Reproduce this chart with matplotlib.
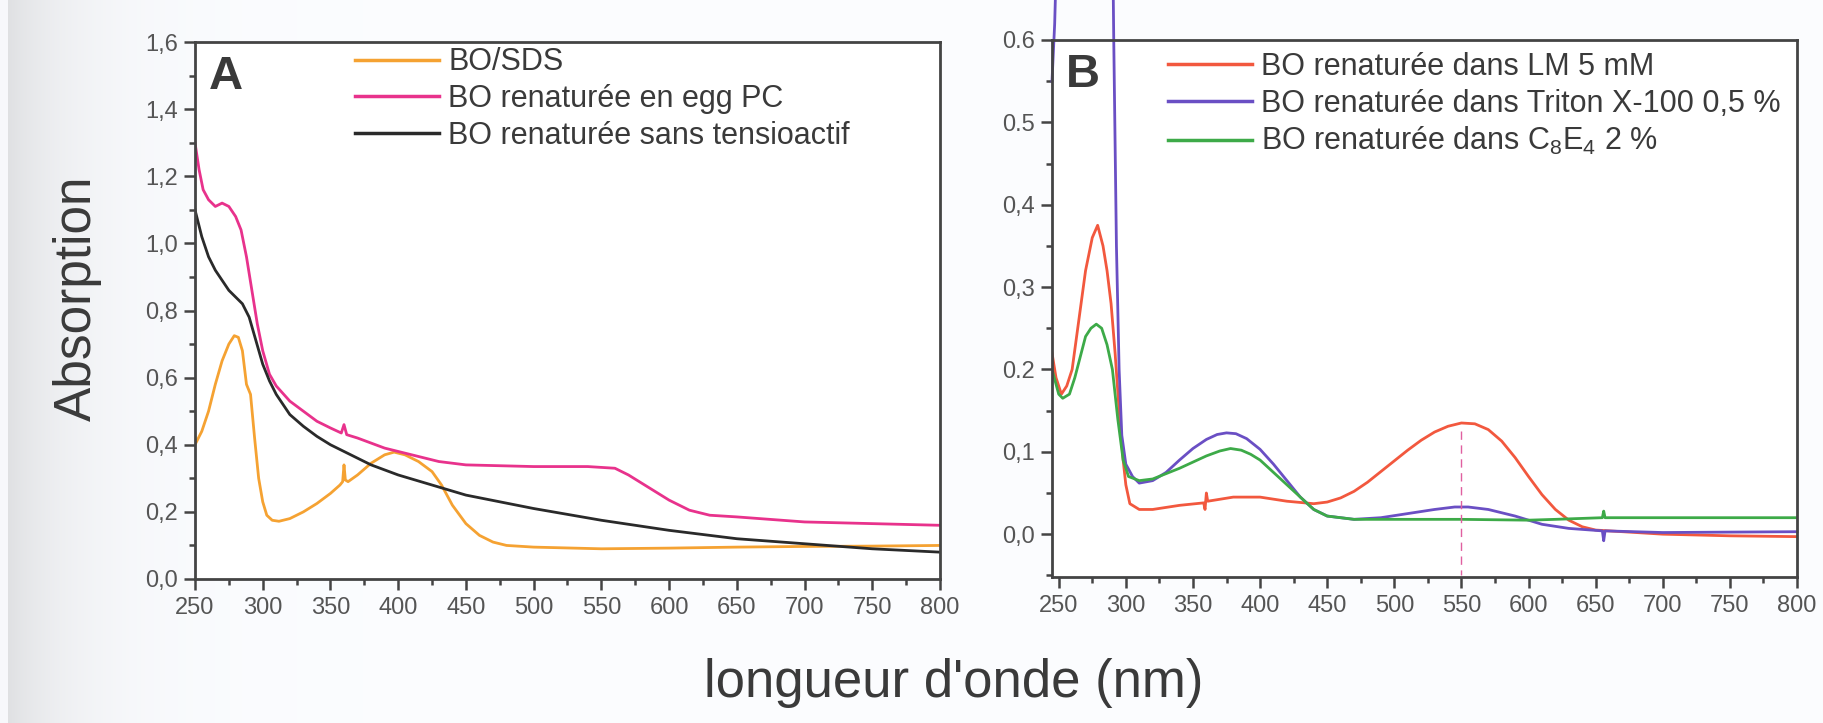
import numpy as np
import matplotlib.pyplot as plt
from matplotlib.ticker import MultipleLocator, FixedLocator, FixedFormatter, FuncFormatter

plt.rcParams['font.family'] = ['Liberation Sans', 'DejaVu Sans']
plt.rcParams['mathtext.fontset'] = 'custom'
plt.rcParams['mathtext.rm'] = 'Liberation Sans'
plt.rcParams['mathtext.it'] = 'Liberation Sans:italic'

# ---------------- Panel A : absorption spectra ----------------
wl_sds = [250, 255, 260, 265, 270, 275, 279, 282, 285, 288, 291, 294, 297, 300, 303, 307,
          312, 320, 330, 340, 350, 357, 359, 360, 361, 363, 370, 380, 390, 397, 405, 415,
          425, 432, 440, 450, 460, 470, 480, 500, 550, 600, 650, 700, 750, 800]
abs_sds = [0.40, 0.44, 0.50, 0.58, 0.65, 0.70, 0.725, 0.72, 0.68, 0.58, 0.55, 0.42, 0.30,
           0.23, 0.19, 0.175, 0.172, 0.18, 0.20, 0.225, 0.255, 0.28, 0.29, 0.34, 0.295,
           0.29, 0.31, 0.345, 0.37, 0.378, 0.37, 0.35, 0.32, 0.28, 0.22, 0.165, 0.13,
           0.11, 0.10, 0.095, 0.09, 0.092, 0.095, 0.097, 0.098, 0.10]

wl_egg = [250, 253, 256, 260, 265, 270, 275, 280, 284, 288, 292, 296, 300, 305, 310, 320,
          330, 340, 350, 358, 360, 362, 370, 390, 410, 430, 450, 500, 540, 560, 570, 580,
          590, 600, 615, 630, 650, 700, 750, 800]
abs_egg = [1.30, 1.22, 1.16, 1.13, 1.11, 1.12, 1.11, 1.08, 1.04, 0.96, 0.86, 0.76, 0.68,
           0.61, 0.575, 0.53, 0.50, 0.47, 0.45, 0.435, 0.46, 0.43, 0.42, 0.39, 0.37,
           0.35, 0.34, 0.335, 0.335, 0.33, 0.31, 0.285, 0.26, 0.235, 0.205, 0.19, 0.185,
           0.17, 0.165, 0.16]

wl_free = [250, 255, 260, 265, 270, 275, 280, 285, 290, 295, 300, 305, 310, 320, 330, 340,
           350, 360, 380, 400, 425, 450, 500, 550, 600, 650, 700, 750, 800]
abs_free = [1.10, 1.02, 0.96, 0.92, 0.89, 0.86, 0.84, 0.82, 0.78, 0.71, 0.64, 0.59, 0.55,
            0.49, 0.455, 0.425, 0.40, 0.38, 0.34, 0.31, 0.28, 0.25, 0.21, 0.175, 0.145,
            0.12, 0.105, 0.09, 0.08]

labels_a = ['BO/SDS', 'BO renaturée en egg PC', 'BO renaturée sans tensioactif']
colors_a = ['#F5A232', '#E8328C', '#2A2A2A']

# ---------------- Panel B : renaturation in detergents ----------------
wl_lm = [245, 248, 252, 256, 260, 265, 270, 275, 279, 283, 286, 289, 292, 295, 298, 300,
         303, 310, 320, 340, 358, 359, 360, 361, 380, 400, 420, 440, 450, 460, 470, 480,
         490, 500, 510, 520, 530, 540, 550, 560, 570, 580, 590, 600, 610, 620, 630, 640,
         650, 700, 750, 800]
abs_lm = [0.22, 0.19, 0.17, 0.18, 0.20, 0.26, 0.32, 0.36, 0.375, 0.35, 0.32, 0.28, 0.22,
          0.15, 0.09, 0.06, 0.037, 0.03, 0.03, 0.035, 0.038, 0.03, 0.05, 0.04, 0.045,
          0.045, 0.04, 0.037, 0.039, 0.044, 0.052, 0.063, 0.076, 0.089, 0.102, 0.114,
          0.124, 0.131, 0.135, 0.134, 0.127, 0.113, 0.093, 0.07, 0.048, 0.03, 0.017,
          0.009, 0.005, 0.0, -0.002, -0.003]

wl_triton = [245, 247, 250, 260, 270, 280, 285, 289, 291, 293, 295, 297, 300, 305, 310,
             320, 330, 340, 350, 360, 368, 375, 382, 390, 400, 410, 420, 430, 440, 450,
             470, 490, 510, 530, 545, 555, 570, 590, 610, 630, 655, 656, 657, 700, 800]
abs_triton = [0.55, 0.62, 0.80, 1.10, 1.30, 1.35, 1.20, 0.90, 0.60, 0.35, 0.20, 0.12,
              0.085, 0.07, 0.062, 0.065, 0.075, 0.09, 0.104, 0.115, 0.121, 0.123, 0.122,
              0.116, 0.103, 0.085, 0.065, 0.045, 0.03, 0.022, 0.018, 0.02, 0.025, 0.03,
              0.033, 0.033, 0.03, 0.022, 0.012, 0.007, 0.004, -0.008, 0.004, 0.002,
              0.003]

wl_c8e4 = [245, 250, 253, 258, 262, 266, 270, 274, 278, 282, 286, 290, 294, 298, 302, 310,
           320, 340, 360, 370, 378, 386, 393, 400, 410, 420, 430, 440, 450, 470, 500, 550,
           600, 620, 655, 656, 657, 700, 800]
abs_c8e4 = [0.20, 0.17, 0.165, 0.17, 0.19, 0.215, 0.24, 0.25, 0.255, 0.25, 0.23, 0.20,
            0.14, 0.09, 0.07, 0.065, 0.067, 0.08, 0.095, 0.101, 0.104, 0.102, 0.097,
            0.09, 0.075, 0.06, 0.045, 0.03, 0.022, 0.018, 0.018, 0.018, 0.017, 0.018,
            0.02, 0.028, 0.02, 0.02, 0.02]

labels_b = ['BO renaturée dans LM 5 mM',
            'BO renaturée dans Triton X-100 0,5 %',
            r'BO renaturée dans C$_8$E$_4$ 2 %']
colors_b = ['#F2583E', '#6A4FC4', '#3DAA48']

# retinal band position marked on panel B
marker_wl = 550
marker_span = [0.125, -0.05]

xticks = [250, 300, 350, 400, 450, 500, 550, 600, 650, 700, 750, 800]
yticks_b = [0.0, 0.1, 0.2, 0.3, 0.4, 0.5, 0.6]
yticklabels_b = ['0,0', '0,1', '0.2', '0,3', '0,4', '0.5', '0.6']

W, H = 1824, 723
fig = plt.figure(figsize=(W / 100, H / 100), dpi=100)
fig.patch.set_facecolor('white')

# soft grey shading along the left border of the page
bg = fig.add_axes([0, 0, 1, 1], zorder=-5)
xs = np.arange(W)
shade = np.where(xs < 8, 0.985, 1 - 0.11 * np.exp(-(xs - 8) / 70.0))
rgb = np.stack([shade * 0.985, shade * 0.99, shade * 1.0], axis=-1)
rgb = np.clip(rgb, 0, 1)[None, :, :].repeat(4, axis=0)
bg.imshow(rgb, extent=[0, 1, 0, 1], aspect='auto', interpolation='bilinear')
bg.axis('off')

spine_col = '#444444'
tick_col = '#555555'
text_col = '#3A3A3A'
tick_family = ['Liberation Sans Narrow', 'Liberation Sans', 'DejaVu Sans']


def style_axes(ax):
    for s in ax.spines.values():
        s.set_linewidth(2.0)
        s.set_color(spine_col)
    ax.tick_params(which='major', direction='out', length=8, width=1.8,
                   colors=spine_col, labelcolor=tick_col, labelsize=17, pad=4,
                   top=False, right=False)
    ax.tick_params(which='minor', direction='out', length=4.5, width=1.8,
                   colors=spine_col, top=False, right=False)
    ax.tick_params(axis='x', which='major', pad=5)
    for lbl in ax.get_xticklabels() + ax.get_yticklabels():
        lbl.set_family(tick_family)
    ax.set_facecolor('white')


axA = fig.add_axes([195 / W, 1 - 579 / H, 745 / W, 537 / H])
axB = fig.add_axes([1052 / W, 1 - 577 / H, 745 / W, 537 / H])

for wl, ab, lab, col in zip([wl_sds, wl_egg, wl_free], [abs_sds, abs_egg, abs_free],
                            labels_a, colors_a):
    axA.plot(wl, ab, color=col, lw=2.0, label=lab)

axA.set_xlim(250, 800)
axA.set_ylim(0, 1.6)
axA.xaxis.set_major_locator(FixedLocator(xticks))
axA.xaxis.set_minor_locator(MultipleLocator(25))
axA.yaxis.set_major_locator(MultipleLocator(0.2))
axA.yaxis.set_minor_locator(MultipleLocator(0.1))
axA.yaxis.set_major_formatter(FuncFormatter(lambda v, p: f'{v:.1f}'.replace('.', ',')))
style_axes(axA)

lines_b = []
for wl, ab, lab, col in zip([wl_lm, wl_triton, wl_c8e4], [abs_lm, abs_triton, abs_c8e4],
                            labels_b, colors_b):
    ln, = axB.plot(wl, ab, color=col, lw=2.0, label=lab)
    lines_b.append(ln)
lines_b[1].set_clip_on(False)
axB.plot([marker_wl, marker_wl], marker_span, color='#E060A0', lw=1.0, ls=(0, (6, 4)))

axB.set_xlim(245, 800)
axB.set_ylim(-0.052, 0.6)
axB.xaxis.set_major_locator(FixedLocator(xticks))
axB.xaxis.set_minor_locator(MultipleLocator(25))
axB.yaxis.set_major_locator(FixedLocator(yticks_b))
axB.yaxis.set_major_formatter(FixedFormatter(yticklabels_b))
axB.yaxis.set_minor_locator(MultipleLocator(0.05))
style_axes(axB)

leg_kw = dict(frameon=False, fontsize=22, handlelength=2.75, handletextpad=0.3,
              labelspacing=0.22, borderpad=0, borderaxespad=0, loc='upper left')
legA = axA.legend(bbox_to_anchor=(0.215, 0.99), **leg_kw)
legB = axB.legend(bbox_to_anchor=(0.156, 0.978), **leg_kw)
for leg in (legA, legB):
    for t in leg.get_texts():
        t.set_color(text_col)
    for h in leg.legend_handles:
        h.set_linewidth(2.5)

axA.text(0.019, 0.975, 'A', transform=axA.transAxes, fontsize=34, fontweight='bold',
         color=text_col, ha='left', va='top')
axB.text(0.019, 0.975, 'B', transform=axB.transAxes, fontsize=34, fontweight='bold',
         color=text_col, ha='left', va='top')

fig.text(77 / W, 1 - 298 / H, 'Absorption', rotation=90, fontsize=37, color=text_col,
         ha='center', va='center')
fig.text(954 / W, 1 - 683 / H, "longueur d'onde (nm)", fontsize=38, color=text_col,
         ha='center', va='center')

fig.savefig('out.png', dpi=100, facecolor=fig.get_facecolor())
